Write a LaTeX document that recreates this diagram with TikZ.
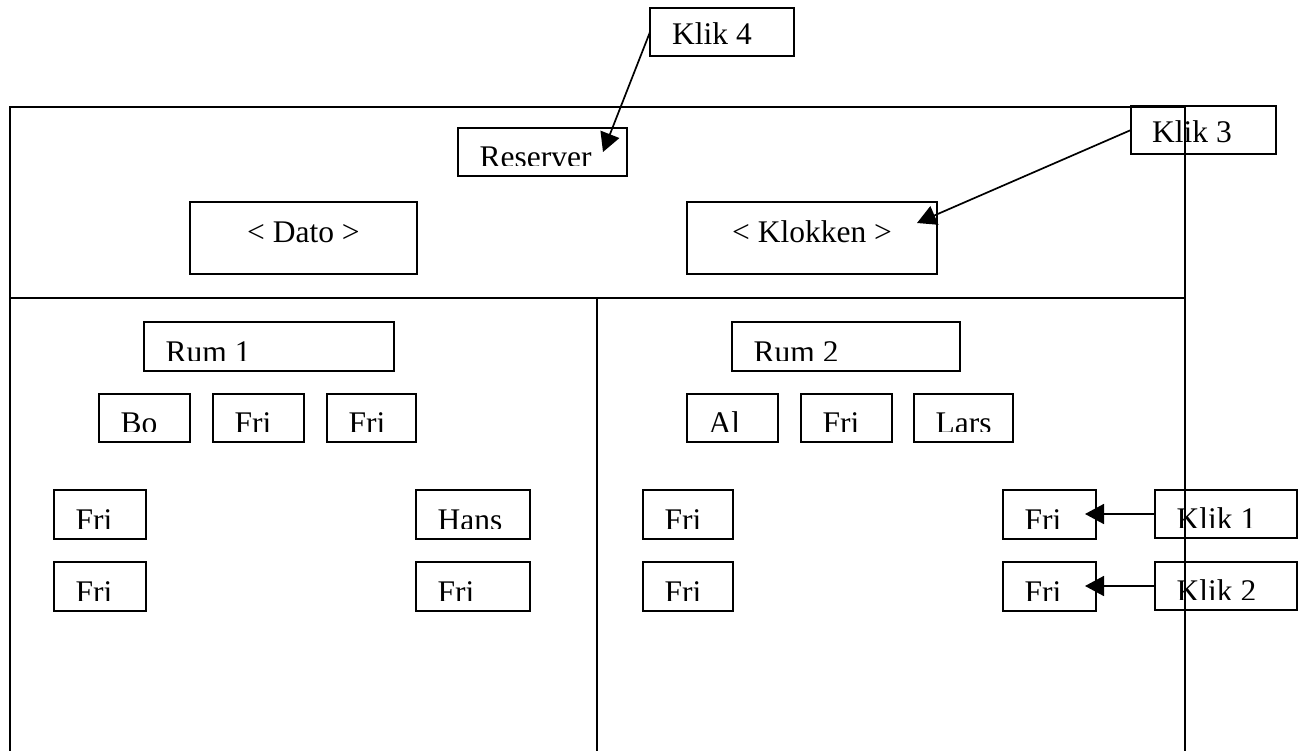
\documentclass[tikz,border=0pt]{standalone}
\usepackage{fontspec}
\setmainfont{Liberation Serif}
\usetikzlibrary{arrows.meta}
\tikzset{
  frameline/.style={line width=1.7pt},
  boxshape/.style={draw, line width=1.7pt, rectangle, inner sep=0pt, outer sep=0pt, anchor=north west},
  lbl/.style={inner sep=0pt, anchor=base west, font=\fontsize{31.5}{36}\selectfont},
  clbl/.style={inner sep=0pt, anchor=base, font=\fontsize{31.5}{36}\selectfont},
  klik/.style={line width=1.7pt, -{Triangle[length=19pt,width=20pt]}},
}
% clipped text box: name, x1, y1, x2, y2, text
\newcommand\cbox[6]{%
  \node[boxshape, minimum width=#4pt-#2pt, minimum height=#5pt-#3pt] (#1) at (#2,#3) {};
  \begin{scope}
    \clip (#2,#3) rectangle (#4,#5-10.5);
    \node[lbl] (#1-t) at (#2+21.5,#5-8.5) {#6};
  \end{scope}
}
\begin{document}
\begin{tikzpicture}[x=1pt,y=-1pt]
\useasboundingbox (0,0) rectangle (1302,751);

% outer frame and dividers
\draw[frameline] (10,751) -- (10,107) -- (1185,107) -- (1185,751);
\draw[frameline] (10,298) -- (1185,298);
\draw[frameline] (597,298) -- (597,751);

% top area
\node[boxshape, minimum width=144pt, minimum height=48pt] (k4) at (650,8) {};
\node[lbl] (k4-t) at (672,45) {Klik 4};
\node[boxshape, minimum width=145pt, minimum height=48pt] (k3) at (1131,106) {};
\node[lbl] (k3-t) at (1152,143) {Klik 3};
\cbox{res}{458}{128}{627}{176}{Reserver}

\node[boxshape, minimum width=227pt, minimum height=72pt] (dato) at (190,202) {};
\node[clbl] (dato-t) at (303.5,243) {< Dato >};
\node[boxshape, minimum width=250pt, minimum height=72pt] (klok) at (687,202) {};
\node[clbl] (klok-t) at (812,243) {< Klokken >};

% room 1
\cbox{rum1}{144}{322}{394}{371}{Rum 1}
\cbox{bo}{99}{394}{190}{442}{Bo}
\cbox{f1a}{213}{394}{304}{442}{Fri}
\cbox{f1b}{327}{394}{416}{442}{Fri}
\cbox{f1c}{54}{490}{146}{539}{Fri}
\cbox{f1d}{54}{562}{146}{611}{Fri}
\cbox{hans}{416}{490}{530}{539}{Hans}
\cbox{f1e}{416}{562}{530}{611}{Fri}

% room 2
\cbox{rum2}{732}{322}{960}{371}{Rum 2}
\cbox{al}{687}{394}{778}{442}{Al}
\cbox{f2a}{801}{394}{892}{442}{Fri}
\cbox{lars}{914}{394}{1013}{442}{Lars}
\cbox{f2b}{643}{490}{733}{539}{Fri}
\cbox{f2c}{643}{562}{733}{611}{Fri}
\cbox{f2d}{1003}{490}{1096}{539}{Fri}
\cbox{f2e}{1003}{562}{1096}{611}{Fri}

% click labels
\cbox{k1}{1155}{490}{1297}{538}{Klik 1}
\cbox{k2}{1155}{562}{1297}{610}{Klik 2}

% arrows
\coordinate (tip4) at (603,152);
\coordinate (tip3) at (917,223);
\coordinate (tip1) at (1085,514);
\coordinate (tip2) at (1085,586);
\draw[klik] (k4.west) -- (tip4);
\draw[klik] (k3.west) -- (tip3);
\draw[klik] (k1.west) -- (tip1);
\draw[klik] (k2.west) -- (tip2);
\end{tikzpicture}
\end{document}
